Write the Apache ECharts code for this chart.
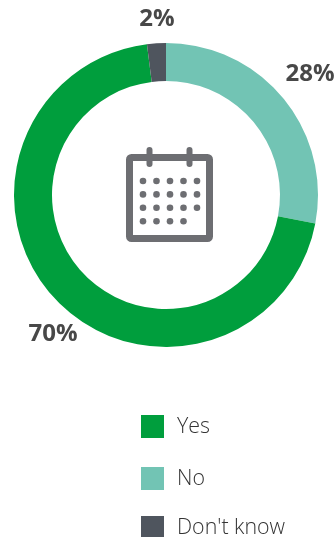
<!DOCTYPE html>
<html>
<head>
<meta charset="utf-8">
<style>html,body{margin:0;padding:0;background:#fff;overflow:hidden}#chart{width:334px;height:537px}</style>
<script src="https://cdn.jsdelivr.net/npm/echarts@6/dist/echarts.min.js"></script>
</head>
<body>
<div id="chart"></div>
<script>
// Survey answers, clockwise from twelve o'clock
const answers = ['No', 'Yes', "Don't know"];
const shares = [28, 70, 2];
const sliceColors = ['#72c4b4', '#009e3d', '#4f555e'];
const legendOrder = ['Yes', 'No', "Don't know"];
const legendTops = [415, 467, 516];
const labelAnchors = [[310, 74], [53, 334], [157, 19]];

const iconColor = '#6d6e72';
const dotRows = [5, 5, 5, 4];

// Calendar pictogram in the middle of the ring
const calendar = [
  { type: 'rect', shape: { x: 129.5, y: 157.5, width: 80, height: 81, r: 2 },
    style: { fill: '#fff', stroke: iconColor, lineWidth: 7 } },
  { type: 'rect', shape: { x: 146.5, y: 147, width: 6, height: 20, r: 3 }, style: { fill: iconColor } },
  { type: 'rect', shape: { x: 186.5, y: 147, width: 6, height: 20, r: 3 }, style: { fill: iconColor } }
];
dotRows.forEach((count, row) => {
  for (let col = 0; col < count; col++) {
    calendar.push({
      type: 'circle',
      shape: { cx: 143 + col * 13.5, cy: 181 + row * 13.4, r: 3.3 },
      style: { fill: iconColor }
    });
  }
});

const chart = echarts.init(document.getElementById('chart'), null, { renderer: 'canvas' });
chart.setOption({
  animation: false,
  color: sliceColors,
  // One legend block per answer so each row sits at its own height
  legend: legendOrder.map((name, i) => ({
    left: 141,
    top: legendTops[i],
    height: 23,
    padding: 0,
    data: [name],
    icon: 'rect',
    itemWidth: 23,
    itemHeight: 23,
    selectedMode: false,
    formatter: '{t|{name}}',
    textStyle: {
      rich: { t: { fontFamily: 'Open Sans', fontWeight: 300, fontSize: 21.4, color: '#333333', padding: [0, 0, 0, 8] } }
    }
  })),
  graphic: { elements: calendar },
  series: [{
    type: 'pie',
    center: [166, 195],
    radius: [114, 152],
    startAngle: 90,
    clockwise: true,
    avoidLabelOverlap: false,
    data: answers.map((name, i) => ({ name, value: shares[i] })),
    label: {
      show: true,
      position: 'outside',
      overflow: 'none',
      formatter: '{c}%',
      fontFamily: 'Open Sans',
      fontWeight: 700,
      fontSize: 24,
      color: '#484848'
    },
    labelLine: { show: false },
    labelLayout: (p) => ({
      x: labelAnchors[p.dataIndex][0],
      y: labelAnchors[p.dataIndex][1],
      align: 'center',
      verticalAlign: 'middle'
    }),
    emphasis: { disabled: true }
  }]
});
</script>
</body>
</html>
